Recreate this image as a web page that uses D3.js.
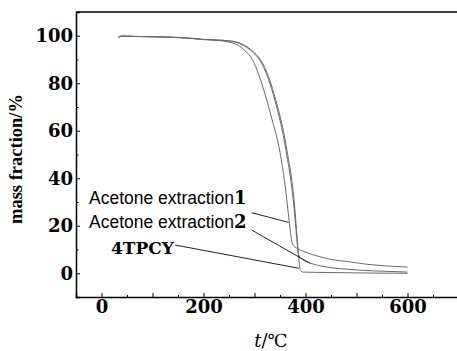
<!DOCTYPE html>
<html><head><meta charset="utf-8">
<script src="https://cdn.jsdelivr.net/npm/d3@7"></script>
<style>body{margin:0;background:#fff}svg{display:block}</style>
</head><body>
<svg id="chart" width="457" height="351"></svg>
<script>
// ---- data ----
const seriesNames = ["Acetone extraction1", "Acetone extraction2", "4TPCY"];
const tempA = [33,35,38,50,100,150,180,200,230,250,265,280,297,317,334,350,360,368,373,377,382,395,415,450,480,520,550,600];
const massA = [99.9,99.2,99.9,99.8,99.5,99.2,98.8,98.4,98.0,97.3,96.3,94.0,89.5,78,65,51,37,22,13.5,11.5,10.7,9.3,7.8,5.8,5.0,3.8,3.2,2.6];
const tempB = [33,35,38,50,100,150,180,200,230,250,270,285,298,311,330,343.5,356.5,363,370,376,382.7,386,392,409,425,448,480,513,560,600];
const massB = [99.9,99.2,99.9,99.8,99.6,99.3,98.9,98.5,98.2,97.8,96.8,95.1,92.8,89.5,80,70,58,50,41,31,15,8,6.2,4.3,3.3,2.4,1.7,1.2,0.8,0.5];
const tempC = [33,35,38,50,100,150,180,200,230,250,270,287,300,313,332,345.5,358.5,365,372,377.5,384,387.5,390,395,450,520,600];
const massC = [99.9,99.2,99.9,99.8,99.6,99.3,98.8,98.4,98.1,97.9,97.0,95.1,92.8,89.5,80,70,58,50,41,31,14,5,1.2,0.5,0.3,0.1,0.0];
const xTickLabels = [0, 200, 400, 600];
const yTickLabels = [0, 20, 40, 60, 80, 100];
// annotation anchors in data units: [labelT, labelV, pointT, pointV]
const leaderA = [294.5, 25.5, 367, 21.4];
const leaderB = [294.5, 18.2, 408.8, 4.2];
const leaderC = [144, 11.9, 386.7, 2.1];

// ---- layout ----
const svg = d3.select("#chart");
const x = d3.scaleLinear().domain([-50, 700]).range([76, 458.5]);
const y = d3.scaleLinear().domain([-10, 110]).range([297, 12]);
const serif = "'DejaVu Serif', serif";

const series = [
  {name: seriesNames[0], t: tempA, v: massA},
  {name: seriesNames[1], t: tempB, v: massB},
  {name: seriesNames[2], t: tempC, v: massC}
];
const line = d3.line().x(d => x(d[0])).y(d => y(d[1])).curve(d3.curveMonotoneX);

svg.append("g").selectAll("path").data(series).join("path")
  .attr("d", s => line(s.t.map((t, i) => [t, s.v[i]])))
  .attr("fill", "none").attr("stroke", "#6a6a6a").attr("stroke-width", 1);

// axes
const xMajor = d3.range(0, 701, 100);
const xMinor = d3.range(-50, 701, 100);
const yMinor = d3.range(-10, 111, 20);

svg.append("g").attr("transform", `translate(0,${y(-10)})`)
  .call(d3.axisBottom(x).tickValues(xMajor).tickSize(-4).tickPadding(3)
    .tickFormat(d => xTickLabels.includes(d) ? d : ""));
svg.append("g").attr("transform", `translate(0,${y(-10)})`)
  .call(d3.axisBottom(x).tickValues(xMinor).tickSize(-2).tickFormat(""))
  .select(".domain").remove();
svg.append("g").attr("transform", `translate(${x(-50)},0)`)
  .call(d3.axisLeft(y).tickValues(yTickLabels).tickSize(-4).tickPadding(3));
svg.append("g").attr("transform", `translate(${x(-50)},0)`)
  .call(d3.axisLeft(y).tickValues(yMinor).tickSize(-2.5).tickFormat(""))
  .select(".domain").remove();

svg.selectAll(".domain").attr("stroke", "#000").attr("stroke-width", 1.5);
svg.selectAll(".tick line").attr("stroke", "#000").attr("stroke-width", 1);
svg.selectAll(".tick text").attr("font-family", serif).attr("font-weight", "bold")
  .attr("font-size", 18).attr("fill", "#000");

// top frame line
svg.append("line").attr("x1", x(-50)).attr("x2", x(700)).attr("y1", y(110)).attr("y2", y(110))
  .attr("stroke", "#000").attr("stroke-width", 1.5);

// titles
svg.append("text").attr("transform", `translate(22,159) rotate(-90)`)
  .attr("text-anchor", "middle").attr("font-family", "'Liberation Serif', serif")
  .attr("font-weight", "bold").attr("font-size", 18.5).text("mass fraction/%");
const xt = svg.append("text").attr("x", 271).attr("y", 347).attr("text-anchor", "middle")
  .attr("font-family", serif).attr("font-size", 18);
xt.append("tspan").attr("font-style", "italic").text("t");
xt.append("tspan").text("/℃");

// annotations
const leaders = [leaderA, leaderB, leaderC];
svg.append("g").selectAll("line").data(leaders).join("line")
  .attr("x1", d => x(d[0])).attr("y1", d => y(d[1]))
  .attr("x2", d => x(d[2])).attr("y2", d => y(d[3]))
  .attr("stroke", "#222").attr("stroke-width", 1);

function sansLabel(px, py, name) {
  const t = svg.append("text").attr("x", px).attr("y", py).attr("fill", "#000");
  t.append("tspan").attr("font-family", "'Liberation Sans', Arial, sans-serif")
    .attr("font-size", 17.5).text(name.slice(0, -1));
  t.append("tspan").attr("font-family", serif).attr("font-weight", "bold")
    .attr("font-size", 18).text(name.slice(-1));
}
sansLabel(89, 204, seriesNames[0]);
sansLabel(89, 228, seriesNames[1]);
svg.append("text").attr("x", 111).attr("y", 254).attr("font-family", serif)
  .attr("font-weight", "bold").attr("font-size", 17).text(seriesNames[2]);
</script>
</body></html>
